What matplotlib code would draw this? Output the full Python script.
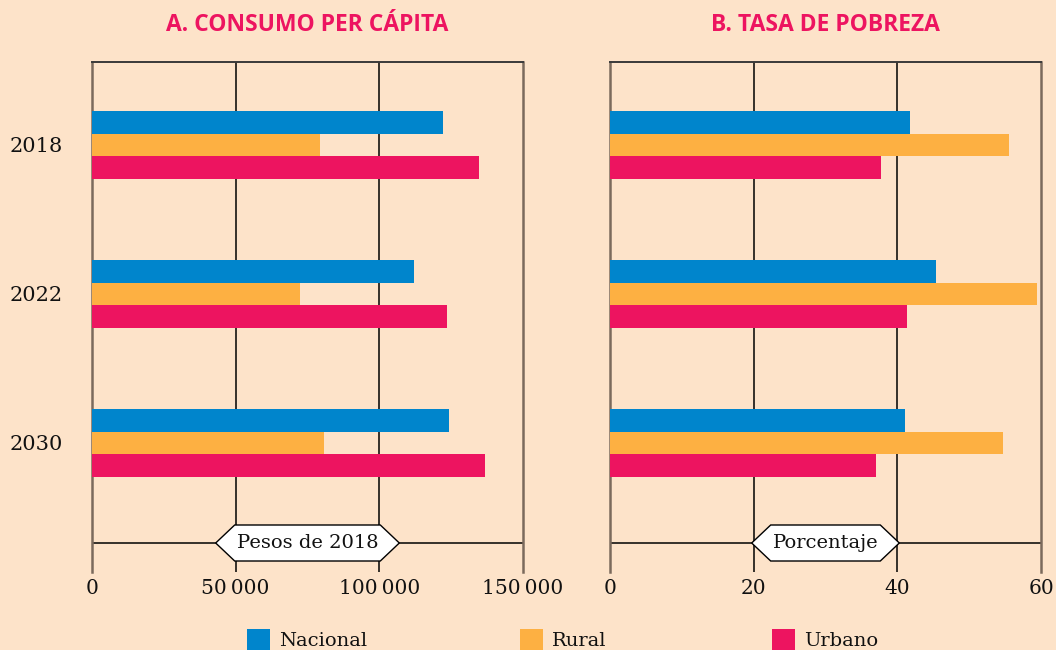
import numpy as np
import matplotlib
matplotlib.use("Agg")
import matplotlib.pyplot as plt
from matplotlib.patches import Polygon, Rectangle

years = ["2018", "2022", "2030"]
series = ["Nacional", "Rural", "Urbano"]

consumo_nacional = [122000, 112000, 124200]
consumo_rural = [79200, 72400, 80700]
consumo_urbano = [134700, 123500, 136800]

pobreza_nacional = [41.8, 45.4, 41.1]
pobreza_rural = [55.5, 59.5, 54.7]
pobreza_urbano = [37.7, 41.3, 37.0]

consumo_ticks = [0, 50000, 100000, 150000]
consumo_ticklabels = ["0", "50\u2009000", "100\u2009000", "150\u2009000"]
pobreza_ticks = [0, 20, 40, 60]
pobreza_ticklabels = ["0", "20", "40", "60"]

BG = "#FDE3C9"
PINK = "#ED1460"
COLORS = ["#0085CC", "#FDB042", "#ED1460"]
SERIF = "DejaVu Serif"
SPINE = "#7b6a5c"

W, H = 1056, 650
fig = plt.figure(figsize=(W / 100, H / 100), dpi=100, facecolor=BG)


def px_axes(left, top, right, bottom):
    return fig.add_axes([left / W, 1 - bottom / H, (right - left) / W, (bottom - top) / H])


LINE_Y = 29 / 510  # axis line position in axes fraction


def draw_panel(ax, values, ticks, ticklabels, show_years):
    pos = np.arange(len(years))
    h = 0.154
    for i, (vals, color) in enumerate(zip(values, COLORS)):
        ax.barh(pos + (i - 1) * h, vals, height=h, color=color, linewidth=0, zorder=3)
    ax.set_xlim(ticks[0], ticks[-1])
    ax.set_ylim(2.866, -0.557)
    ax.set_facecolor(BG)

    for t in ticks[1:-1]:
        ax.axvline(t, color="black", lw=1.1, zorder=1)
    ax.plot([0, 1], [LINE_Y, LINE_Y], transform=ax.transAxes, color="black", lw=1.1, zorder=1)

    ax.spines["bottom"].set_visible(False)
    for side in ("left", "right"):
        ax.spines[side].set_color(SPINE)
        ax.spines[side].set_linewidth(1.8)
    ax.spines["top"].set_color("#3a3a3a")
    ax.spines["top"].set_linewidth(1.4)

    ax.set_xticks(ticks, ticklabels)
    ax.tick_params(axis="x", length=0, pad=5, labelsize=14.5)
    if show_years:
        ax.set_yticks(np.arange(len(years)), years)
        ax.tick_params(axis="y", length=0, pad=21, labelsize=15)
    else:
        ax.set_yticks([])
    for lab in ax.get_xticklabels() + ax.get_yticklabels():
        lab.set_family(SERIF)
        lab.set_color("#111111")


def draw_tag(ax, label):
    txt = ax.text(0.5, LINE_Y, label, transform=ax.transAxes, ha="center", va="center",
                  fontsize=14, family=SERIF, color="#111111", zorder=7)
    fig.canvas.draw()
    bb = txt.get_window_extent()
    axb = ax.get_window_extent()
    cx = (axb.x0 + axb.x1) / 2
    cy = axb.y0 + LINE_Y * axb.height
    half = bb.width / 2 + 2
    tip, hh = 19, 18
    pts = [(cx - half - tip, cy), (cx - half, cy + hh), (cx + half, cy + hh),
           (cx + half + tip, cy), (cx + half, cy - hh), (cx - half, cy - hh)]
    inv = ax.transAxes.inverted()
    pts = inv.transform(pts)
    ax.add_patch(Polygon(pts, closed=True, transform=ax.transAxes, facecolor="white",
                         edgecolor="black", lw=1.0, zorder=6, clip_on=False))


ax_a = px_axes(92, 62, 523, 572)
ax_b = px_axes(610, 62, 1041, 572)

draw_panel(ax_a, [consumo_nacional, consumo_rural, consumo_urbano],
           consumo_ticks, consumo_ticklabels, True)
draw_panel(ax_b, [pobreza_nacional, pobreza_rural, pobreza_urbano],
           pobreza_ticks, pobreza_ticklabels, False)

fig.text(307.5 / W, 1 - 25 / H, "A. CONSUMO PER CÁPITA", ha="center", va="center",
         fontsize=16.5, fontweight="bold", family="Open Sans", color=PINK)
fig.text(825.5 / W, 1 - 25 / H, "B. TASA DE POBREZA", ha="center", va="center",
         fontsize=16.5, fontweight="bold", family="Open Sans", color=PINK)

draw_tag(ax_a, "Pesos de 2018")
draw_tag(ax_b, "Porcentaje")

# legend along the bottom edge
for x0, label, color in zip([247, 520, 772], series, COLORS):
    fig.patches.append(Rectangle((x0 / W, 1 - 652 / H), 23 / W, 23 / H,
                                 transform=fig.transFigure, facecolor=color, linewidth=0))
    fig.text((x0 + 32) / W, 1 - 641 / H, label, va="center", ha="left",
             fontsize=14, family=SERIF, color="#111111")

fig.savefig("out.png", dpi=100, facecolor=BG)
